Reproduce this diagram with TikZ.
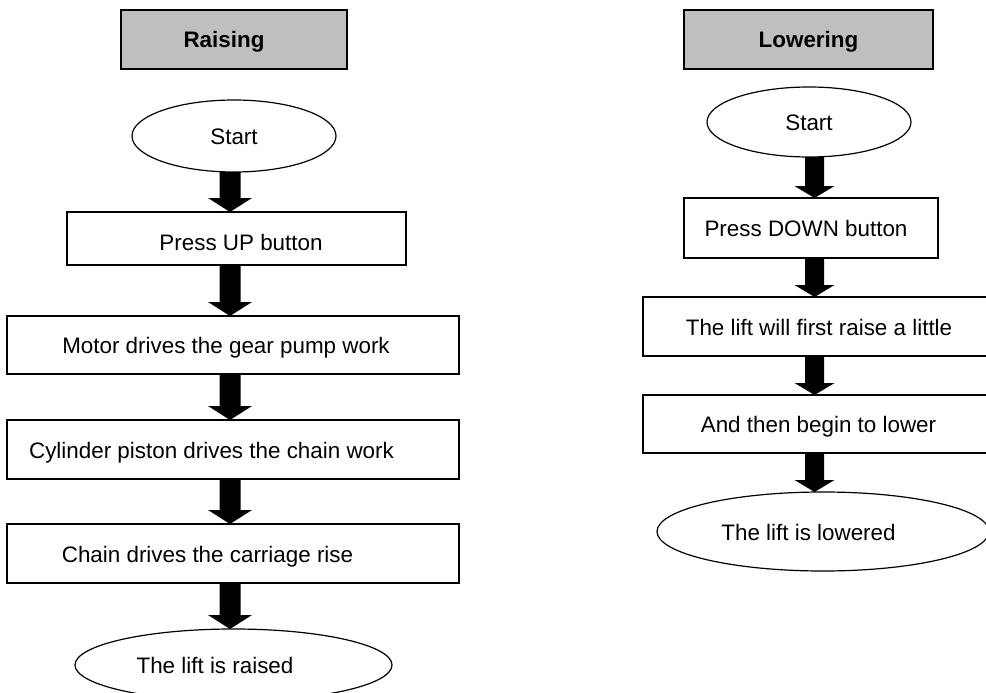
\documentclass[tikz,border=0pt]{standalone}
\usepackage{fontspec}
\setmainfont{Liberation Sans}
\usetikzlibrary{shapes.geometric,calc}
\newcommand{\bodyfont}{\fontsize{22.4}{27}\selectfont}
% block arrow: #1 source, #2 target, #3 x, #4 half shaft, #5 half head, #6 head length
\newcommand{\barrow}[6]{%
  \fill[black] let \p1=(#1.south), \p2=(#2.north), \p3=(#3,0) in
    ({\x3-#4pt},\y1) -- ({\x3+#4pt},\y1) -- ({\x3+#4pt},{\y2+#6pt}) --
    ({\x3+#5pt},{\y2+#6pt}) -- (\x3,\y2) -- ({\x3-#5pt},{\y2+#6pt}) --
    ({\x3-#4pt},{\y2+#6pt}) -- cycle;}
\begin{document}
\begin{tikzpicture}[x=1pt,y=-1pt,
  box/.style={draw, rectangle, line width=1.2pt, inner sep=0pt, outer sep=0pt,
    text height=17pt, text depth=0pt, font=\bodyfont},
  header/.style={box, fill=black!25, font=\bodyfont\bfseries},
  oval/.style={draw, ellipse, line width=1.2pt, inner sep=0pt, outer sep=0pt,
    text height=17pt, text depth=0pt, font=\bodyfont, fill=white}]
\useasboundingbox (0,0) rectangle (986,693);
\fill[white] (0,0) rectangle (986,693);
\clip (0,0) rectangle (986,693);

% ---------- Raising ----------
\node[header, minimum width=226pt, minimum height=59pt] (hdrL) at (234,39.5) {\hspace*{-20pt}Raising};
\node[oval, minimum width=204pt, minimum height=72pt] (startL) at (234,136) {Start};
\node[box, minimum width=339pt, minimum height=53pt, text height=24pt] (up) at (236.5,238.5) {\hspace*{9pt}Press UP button};
\node[box, minimum width=452pt, minimum height=58pt] (motor) at (233,345) {\hspace*{-14pt}Motor drives the gear pump work};
\node[box, minimum width=452pt, minimum height=59pt] (cyl) at (233,449.5) {\hspace*{-43pt}Cylinder piston drives the chain work};
\node[box, minimum width=452pt, minimum height=59pt] (chain) at (233,553.5) {\hspace*{-51pt}Chain drives the carriage rise};
\node[oval, minimum width=317pt, minimum height=72pt] (raised) at (233.5,665) {\hspace*{-37pt}The lift is raised};

\barrow{startL}{up}{230}{10.5}{22}{14}
\barrow{up}{motor}{230}{10.5}{22}{14}
\barrow{motor}{cyl}{230}{10.5}{22}{14}
\barrow{cyl}{chain}{230}{10.5}{22}{14}
\barrow{chain}{raised}{230}{10.5}{22}{14}

% ---------- Lowering ----------
\node[header, minimum width=249pt, minimum height=59pt] (hdrR) at (808.5,39.5) {Lowering};
\node[oval, minimum width=204pt, minimum height=70pt] (startR) at (809,122) {Start};
\node[box, minimum width=254pt, minimum height=60pt] (down) at (811,228) {\hspace*{-10pt}Press DOWN button};
\node[box, minimum width=347pt, minimum height=59pt] (first) at (816.5,326.5) {\hspace*{5pt}The lift will first raise a little};
\node[box, minimum width=347pt, minimum height=58pt] (lower) at (816.5,424) {\hspace*{4pt}And then begin to lower};
\node[oval, minimum width=332pt, minimum height=79pt] (lowered) at (823,531.5) {\hspace*{-29pt}The lift is lowered};

\barrow{startR}{down}{814.5}{9.5}{20}{12}
\barrow{down}{first}{814.5}{9.5}{20}{12}
\barrow{first}{lower}{814.5}{9.5}{20}{12}
\barrow{lower}{lowered}{814.5}{9.5}{20}{12}
\end{tikzpicture}
\end{document}
